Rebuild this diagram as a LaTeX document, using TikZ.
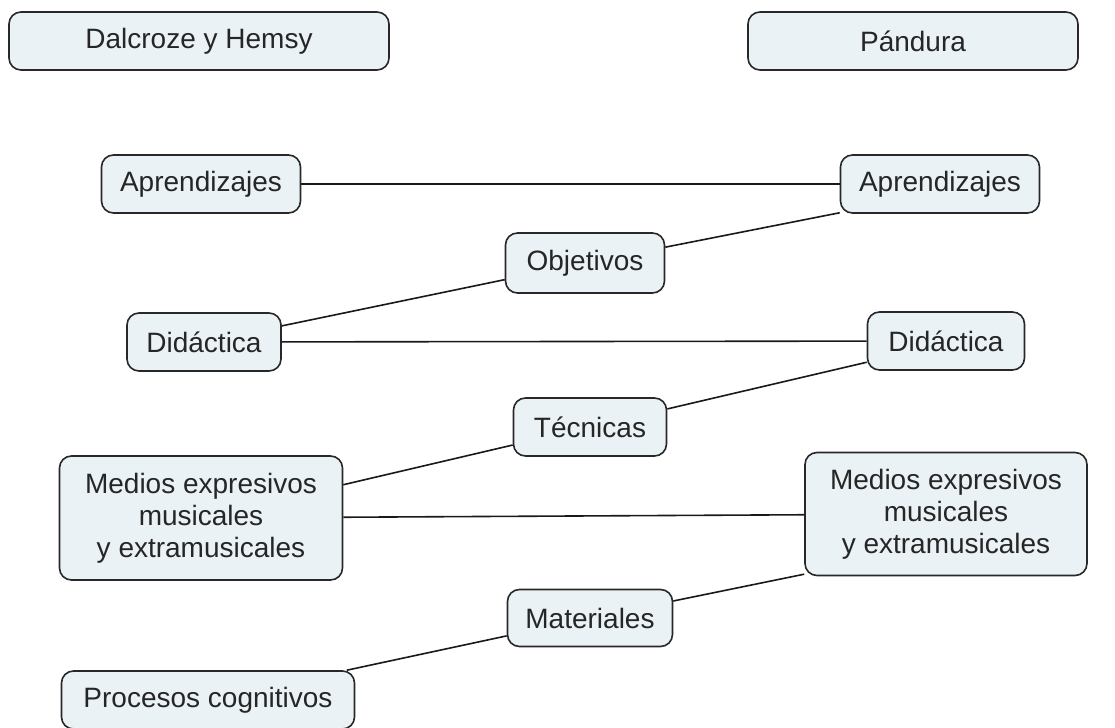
\documentclass[tikz,border=0pt]{standalone}
\usepackage{fontspec}
\setmainfont{Liberation Sans}
\usetikzlibrary{backgrounds}
\definecolor{conceptfill}{RGB}{234,242,245}
\definecolor{conceptline}{RGB}{40,40,40}
\tikzset{
  concept/.style={draw=conceptline, line width=0.8pt, fill=conceptfill, rounded corners=6pt,
    minimum height=29pt, align=center, inner sep=2pt, text=black!85,
    font=\fontsize{14}{16}\selectfont},
  link/.style={line width=0.8pt, draw=black!90}
}
\begin{document}
\begin{tikzpicture}[x=0.5pt,y=-0.5pt]
    \useasboundingbox (0,0) rectangle (1115,728);
    \node[concept, minimum width=190pt] (dalcroze) at (199,41) {Dalcroze y Hemsy};
    \node[concept, minimum width=165pt] (pandura) at (913,41) {Pándura};
    \node[concept, minimum width=99.5pt] (aprL) at (201,184) {Aprendizajes};
    \node[concept, minimum width=99.5pt] (aprR) at (940,184) {Aprendizajes};
    \node[concept, minimum width=79.5pt, minimum height=30pt] (objetivos) at (585,263) {Objetivos};
    \node[concept, minimum width=77pt] (didL) at (204,342) {Didáctica};
    \node[concept, minimum width=78.5pt] (didR) at (946,341) {Didáctica};
    \node[concept, minimum width=76.5pt] (tecnicas) at (590,427) {Técnicas};
    \node[concept, minimum width=141.5pt, minimum height=62pt] (medL) at (201,518) {Medios expresivos\\ musicales\\ y extramusicales};
    \node[concept, minimum width=141pt, minimum height=61.5pt] (medR) at (946,514) {Medios expresivos\\ musicales\\ y extramusicales};
    \node[concept, minimum width=82.5pt, minimum height=28.5pt] (materiales) at (590,618) {Materiales};
    \node[concept, minimum width=146.5pt] (procesos) at (208,700) {Procesos cognitivos};
    % links between the two sides
    \begin{scope}[on background layer]
      \draw[link] (aprL) -- (aprR);
      \draw[link] (didL) -- (objetivos) -- (aprR.196);
      \draw[link] (didL) -- (didR);
      \draw[link] (medL) -- (tecnicas) -- (didR.195);
      \draw[link] (medL) -- (medR);
      \draw[link] (procesos) -- (materiales) -- (medR.203);
    \end{scope}
\end{tikzpicture}
\end{document}
